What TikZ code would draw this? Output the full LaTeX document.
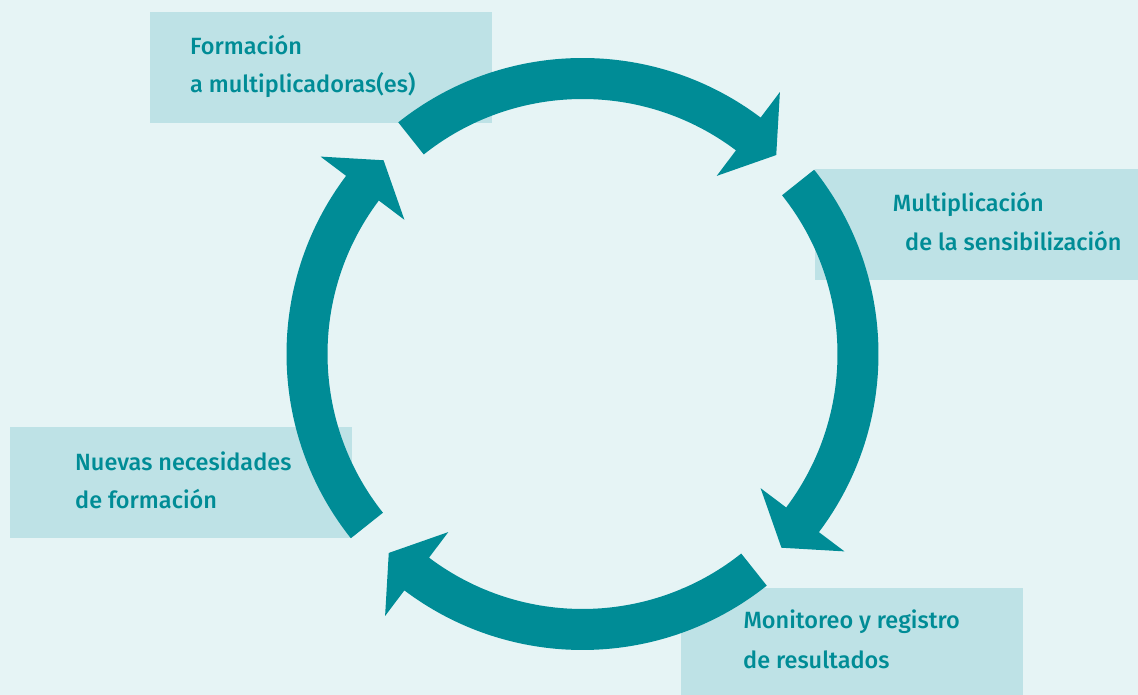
\documentclass[tikz,border=0pt]{standalone}
\usepackage{fontspec}
\setmainfont{Fira Sans}[UprightFont=* Medium]
\definecolor{bgc}{RGB}{230,244,245}
\definecolor{boxc}{RGB}{190,226,230}
\definecolor{tealc}{RGB}{0,140,150}
\begin{document}
\begin{tikzpicture}[x=1pt,y=1pt,
  labelbox/.style={fill=boxc, draw=none, inner sep=0pt, anchor=north west, minimum height=111pt},
  lbl/.style={anchor=base west, inner sep=0pt, text=tealc, font=\fontsize{23.5}{28}\selectfont},
  cyc/.style={fill=tealc, draw=none}]
\fill[bgc] (0,0) rectangle (1138,695);
\useasboundingbox (0,0) rectangle (1138,695);
% boxes
\node[labelbox, minimum width=342pt] (b1) at (150,683) {};
\node[labelbox, minimum width=323pt] (b2) at (815,526) {};
\node[labelbox, minimum width=342pt] (b3) at (10,268) {};
\node[labelbox, minimum width=342pt, minimum height=107pt] (b4) at (681,107) {};
% cycle arrows
\coordinate (c) at (582.5,341);
\foreach \a in {128.5, 38.5, -51.5, -141.5} {
  \pgfmathsetmacro\b{\a-75.5}
  \pgfmathsetmacro\t{\b-7.24}
  \fill[cyc, shift={(c)}] (\a:296) arc[start angle=\a, end angle=\b, radius=296]
     -- (\b:328) -- (\t:277.7) -- (\b:223) -- (\b:255)
     arc[start angle=\b, end angle=\a, radius=255] -- cycle;
}
% labels
\node[lbl] (t1a) at (190,640) {Formación};
\node[lbl] (t1b) at (190,602) {a multiplicadoras(es)};
\node[lbl] (t2a) at (892.7,483.3) {Multiplicación};
\node[lbl] (t2b) at (905,444.3) {de la sensibilización};
\node[lbl] (t3a) at (75,224.3) {Nuevas necesidades};
\node[lbl] (t3b) at (75,186.7) {de formación};
\node[lbl] (t4a) at (743.3,66.7) {Monitoreo y registro};
\node[lbl] (t4b) at (743,26.7) {de resultados};
\end{tikzpicture}
\end{document}
